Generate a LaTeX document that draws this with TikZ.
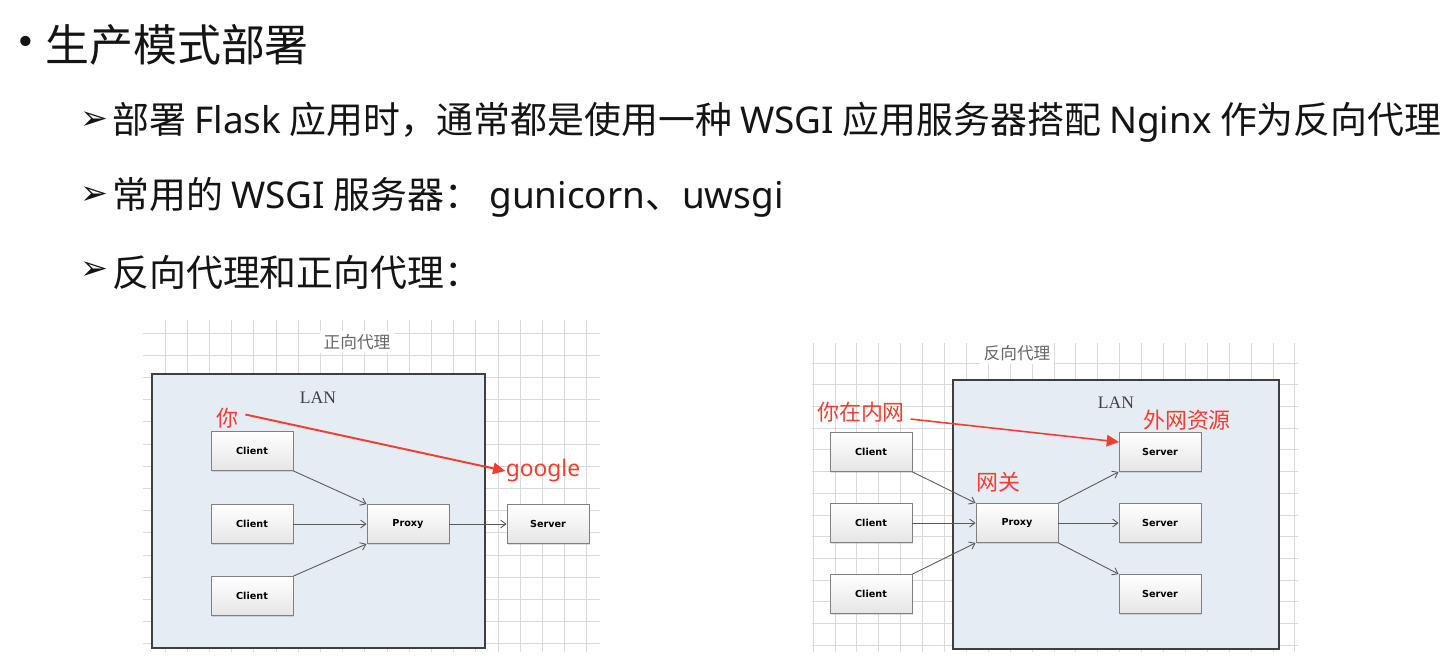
\documentclass[tikz,border=0pt]{standalone}
\usepackage{fontspec}
\setmainfont{Noto Sans CJK SC}
\setsansfont{DejaVu Sans}
\newfontfamily\symfont{DejaVu Sans}
\newfontfamily\latinfont{Noto Sans}
\newfontfamily\lanfont{Liberation Serif}
\newcommand{\lat}[1]{{\latinfont #1}}
\usetikzlibrary{arrows.meta,shadows}
\definecolor{lanfill}{RGB}{229,236,244}
\definecolor{noteRed}{RGB}{240,62,50}
\definecolor{gridgray}{RGB}{218,218,218}
\definecolor{pageInk}{RGB}{20,20,20}
\tikzset{
  gridline/.style={draw=gridgray, line width=0.4pt},
  lanbox/.style={draw=black!75, line width=0.9pt, fill=lanfill},
  devbox/.style={draw=black!50, line width=0.5pt, top color=white, bottom color=black!10,
    minimum width=1.64cm, minimum height=0.78cm, inner sep=0pt,
    drop shadow={shadow xshift=0.7pt, shadow yshift=-0.7pt, opacity=0.25},
    font=\sffamily\bfseries\fontsize{5.5}{6}\selectfont},
  link/.style={draw=black!65, line width=0.5pt, -{Straight Barb[length=3pt,width=4.5pt]}},
  hint/.style={text=noteRed, font=\fontsize{12.5}{14}\selectfont, inner sep=0pt},
  hintarrow/.style={draw=noteRed, line width=1.1pt, -{Triangle[length=7pt,width=6.5pt]}},
  pagetext/.style={anchor=west, inner sep=0pt, text=pageInk, font=\fontsize{21}{23}\selectfont},
  marker/.style={inner sep=0pt, text=pageInk, font=\symfont\fontsize{19}{20}\selectfont},
  boxtitle/.style={fill=white, inner sep=2pt, text=black!60, font=\fontsize{9.5}{11}\selectfont},
  lanlabel/.style={inner sep=0pt, text=black!75, font=\lanfont\fontsize{10}{11}\selectfont},
}

\begin{document}
\begin{tikzpicture}[x=0.02cm,y=-0.02cm]
\useasboundingbox (0,0) rectangle (1451,657);

            % Slide text
\node[pagetext, font=\symfont\fontsize{20}{22}\selectfont] (dot) at (15,45) {•};
\node[pagetext, font=\fontsize{25}{28}\selectfont] (title) at (45,45) {生产模式部署};
\node[marker] (mkA) at (94,121) {➢};
\node[pagetext] (lineA) at (112,122) {部署 \lat{Flask} 应用时，通常都是使用一种 \lat{WSGI} 应用服务器搭配 \lat{Nginx} 作为反向代理};
\node[marker] (mkB) at (94,196) {➢};
\node[pagetext] (lineB) at (112,197) {常用的 \lat{WSGI} 服务器： \lat{gunicorn}、\lat{uwsgi}};
\node[marker] (mkC) at (94,271) {➢};
\node[pagetext] (lineC) at (112,272) {反向代理和正向代理：};

            % Forward proxy: grid and LAN
\foreach \gx in {0,...,19}
  \draw[gridline] ({165+22.2*\gx},320) -- ({165+22.2*\gx},652);
\foreach \gy in {0,...,14}
  \draw[gridline] (143,{333+22.2*\gy}) -- (600,{333+22.2*\gy});
\node[boxtitle] (fwdTitle) at (357,342) {正向代理};
\draw[lanbox] (152,374) rectangle (485,648);
\node[lanlabel] (fwdLan) at (318,398) {LAN};
\node[devbox] (fwdClientA) at (252,451) {Client};
\node[devbox] (fwdClientB) at (252,524) {Client};
\node[devbox] (fwdClientC) at (252,596) {Client};
\node[devbox] (fwdProxy) at (408,524) {Proxy};
\node[devbox] (fwdServer) at (548,524) {Server};
\node[hint] (fwdYou) at (227,418) {你};
\node[hint, font=\latinfont\fontsize{13}{14}\selectfont] (fwdGoogle) at (543,471) {google};
%Links
\draw[link] (fwdClientA.south east) -- (fwdProxy.north west);
\draw[link] (fwdClientB.east) -- (fwdProxy.west);
\draw[link] (fwdClientC.north east) -- (fwdProxy.south west);
\draw[link] (fwdProxy.east) -- (fwdServer.west);
\draw[hintarrow] ([xshift=4pt,yshift=2pt]fwdYou.east) -- (fwdGoogle.west);

            % Reverse proxy: grid and LAN
\foreach \gx in {0,...,22}
  \draw[gridline] ({813+21.9*\gx},343) -- ({813+21.9*\gx},652);
\foreach \gy in {0,...,13}
  \draw[gridline] (812,{363+21.7*\gy}) -- (1298,{363+21.7*\gy});
\node[boxtitle] (revTitle) at (1017,353) {反向代理};
\draw[lanbox] (953,380) rectangle (1279,649);
\node[lanlabel] (revLan) at (1116,403) {LAN};
\node[devbox] (revClientA) at (871,452) {Client};
\node[devbox] (revClientB) at (871,523) {Client};
\node[devbox] (revClientC) at (871,594) {Client};
\node[devbox] (revProxy) at (1017,523) {Proxy};
\node[devbox] (revServerA) at (1160,452) {Server};
\node[devbox] (revServerB) at (1160,523) {Server};
\node[devbox] (revServerC) at (1160,594) {Server};
\node[hint] (revInner) at (861,412) {你在内网};
\node[hint] (revOuter) at (1187,420) {外网资源};
\node[hint] (revGate) at (998,482) {网关};
\coordinate (revHit) at (1119,442);
%Links
\draw[link] (revClientA.south east) -- (revProxy.north west);
\draw[link] (revClientB.east) -- (revProxy.west);
\draw[link] (revClientC.north east) -- (revProxy.south west);
\draw[link] (revProxy.north east) -- (revServerA.south west);
\draw[link] (revProxy.east) -- (revServerB.west);
\draw[link] (revProxy.south east) -- (revServerC.north west);
\draw[hintarrow, line width=0.9pt] ([xshift=3pt,yshift=-4pt]revInner.east) -- (revHit);

\end{tikzpicture}
\end{document}
